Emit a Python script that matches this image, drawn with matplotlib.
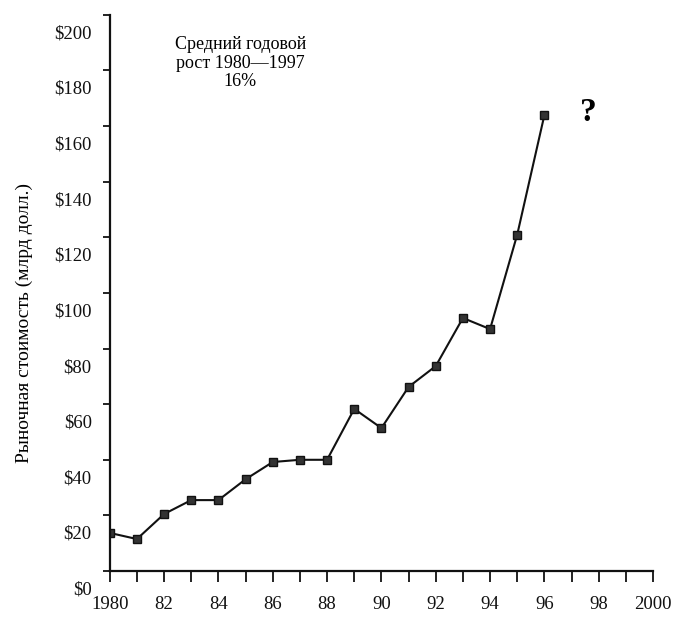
import matplotlib

matplotlib.use("Agg")
import matplotlib.pyplot as plt
from matplotlib.transforms import ScaledTranslation

# ── Data ──────────────────────────────────────────────
years = [1980, 1981, 1982, 1983, 1984, 1985, 1986, 1987, 1988,
         1989, 1990, 1991, 1992, 1993, 1994, 1995, 1996]
values = [13.7, 11.5, 20.5, 25.5, 25.5, 33, 39.2, 40, 40,
          58.3, 51.4, 66.2, 73.7, 91, 87, 121, 164]

x_ticks = list(range(1980, 2001))
x_labels = ["1980" if y == 1980 else ("2000" if y == 2000 else (f"{y % 100:02d}" if y % 2 == 0 else ""))
            for y in x_ticks]
y_ticks = list(range(0, 201, 20))
y_labels = [f"${v}" for v in y_ticks]

note = "Средний годовой\nрост 1980—1997\n16%"
y_title = "Рыночная стоимость (млрд долл.)"

plt.rcParams["font.family"] = ["Liberation Serif", "DejaVu Serif"]

fig = plt.figure(figsize=(6.86, 6.2), dpi=100)
ax = fig.add_axes([0.160, 0.079, 0.792, 0.897])

ax.plot(years, values, color="#111111", linewidth=1.5,
        marker="s", markersize=6, markerfacecolor="#333333",
        markeredgecolor="#111111", markeredgewidth=1)

ax.set_xlim(1980, 2000)
ax.set_ylim(0, 200)
ax.set_xticks(x_ticks)
ax.set_xticklabels(x_labels, fontsize=13.5)
ax.set_yticks(y_ticks)
ax.set_yticklabels(y_labels, fontsize=13.5)

for s in ["top", "right"]:
    ax.spines[s].set_visible(False)
for s in ["left", "bottom"]:
    ax.spines[s].set_linewidth(1.6)
    ax.spines[s].set_color("#111111")

ax.tick_params(axis="x", direction="out", length=8, width=1.3, pad=10, colors="#111111")
ax.tick_params(axis="y", direction="out", length=5, width=1.3, pad=8, colors="#111111")

# labels sit a bit below their tick marks in the original
shift = ScaledTranslation(0, -17 / 100, fig.dpi_scale_trans)
for lab in ax.get_yticklabels():
    lab.set_transform(lab.get_transform() + shift)

ax.set_ylabel(y_title, fontsize=14)
ax.yaxis.set_label_coords(-0.142, 0.446)

ax.text(0.24, 0.962, note, transform=ax.transAxes, ha="center", va="top",
        fontsize=13, linespacing=1.12)
ax.text(1997.6, 165, "?", ha="center", va="center",
        fontsize=24, fontweight="bold")

fig.savefig("out.png", dpi=100)
